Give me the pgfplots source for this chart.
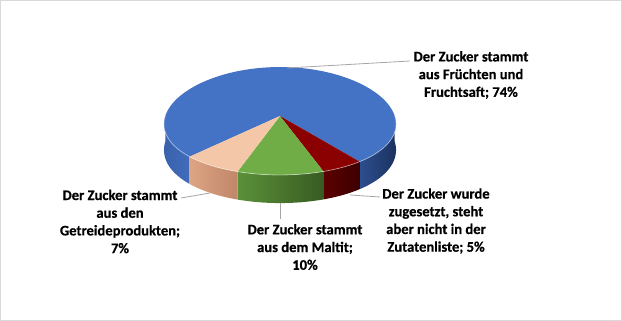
\documentclass[border=0pt]{standalone}
\usepackage{pgfplots}
\pgfplotsset{compat=1.18}
\usepackage{pgfplotstable}
\usepackage{fontspec}
\setmainfont{Carlito}[BoldFeatures={FakeBold=0.6}]

\definecolor{cBlue}{HTML}{4472C4}
\definecolor{cBlueSideL1}{HTML}{3A62AC}
\definecolor{cBlueSideL2}{HTML}{416CBB}
\definecolor{cBlueSideR1}{HTML}{2D4F8F}
\definecolor{cBlueSideR2}{HTML}{1B3260}
\definecolor{cRed}{HTML}{8B0000}
\definecolor{cRedSide1}{HTML}{5C0000}
\definecolor{cRedSide2}{HTML}{3D0000}
\definecolor{cGreen}{HTML}{70AD47}
\definecolor{cGreenSide1}{HTML}{5B9039}
\definecolor{cGreenSide2}{HTML}{385B22}
\definecolor{cPeach}{HTML}{F4C7A8}
\definecolor{cPeachSide1}{HTML}{DDA584}
\definecolor{cPeachSide2}{HTML}{BF8668}
\definecolor{cLeader}{HTML}{A6A6A6}
\definecolor{cFrame}{HTML}{D9D9D9}

% slice values (in %), clockwise: Fruechte, zugesetzt, Maltit, Getreide
\pgfplotstableread{
slice value
1 74
2 5
3 10
4 7
}\piedata

\pgfplotstablegetelem{0}{value}\of\piedata\edef\vA{\pgfplotsretval}
\pgfplotstablegetelem{1}{value}\of\piedata\edef\vB{\pgfplotsretval}
\pgfplotstablegetelem{2}{value}\of\piedata\edef\vC{\pgfplotsretval}
\pgfplotstablegetelem{3}{value}\of\piedata\edef\vD{\pgfplotsretval}
\pgfmathsetmacro\tot{\vA+\vB+\vC+\vD}
\pgfmathsetmacro\degper{360/\tot}
\def\startang{225.25}
\pgfmathsetmacro\pA{\startang-\degper*\vA+360}
\pgfmathsetmacro\pB{\pA-\degper*\vB}
\pgfmathsetmacro\pC{\pB-\degper*\vC}
\pgfmathsetmacro\pD{\pC-\degper*\vD}
\pgfmathsetmacro\pAm{\pA-360}

% geometry of the pie (image coordinates, mild perspective)
\def\apx{280}\def\apy{116}
\def\pAx{114.7}\def\pBy{53.5}
\def\kx{0.15}\def\ky{0.0926}
\def\pdepth{25.5}

% side wall between angles #1<#2
\newcommand\wall[4]{%
  \addplot[draw=none, left color=#3, right color=#4, domain=0:3, samples=181,
    declare function={Tw(\x)=(\x<1) ? (#1+(#2-#1)*\x) : ((\x<2) ? (#2) : (#2-(#2-#1)*(\x-2)));
                      Ow(\x)=(\x<1) ? 0 : ((\x<2) ? (\x-1) : 1);}]
  ({PX(Tw(x))},{PY(Tw(x)) + Ow(x)*\pdepth/(1+\ky*sin(Tw(x)))});
}
% top face between angles #1<#2
\newcommand\topface[3]{%
  \addplot[draw=none, fill=#3, domain=#1:#2, samples=120]
  ({PX(x)},{PY(x)}) -- (axis cs:\apx,\apy) -- cycle;
}
\newcommand\lbl{\fontsize{14.6}{17.7}\selectfont\bfseries}

\begin{document}
\begin{tikzpicture}
\begin{axis}[hide axis, scale only axis, width=622pt, height=321pt,
  xmin=0, xmax=622, ymin=0, ymax=321, y dir=reverse, clip=false,
  declare function={PX(\x)=\apx+\pAx*cos(\x)/(1+\kx*sin(\x));
                    PY(\x)=\apy-\pBy*sin(\x)/(1+\ky*sin(\x));}]

% frame
\addplot[cFrame, line width=1pt] coordinates {(0.5,0.5) (621.5,0.5) (621.5,320.5) (0.5,320.5) (0.5,0.5)};

% side walls (front half only)
\wall{180}{\startang}{cBlueSideL1}{cBlueSideL2}
\wall{\pA}{360}{cBlueSideR1}{cBlueSideR2}
\wall{\pB}{\pA}{cRedSide1}{cRedSide2}
\wall{\pC}{\pB}{cGreenSide1}{cGreenSide2}
\wall{\pD}{\pC}{cPeachSide1}{cPeachSide2}

% top faces
\topface{\pAm}{\startang}{cBlue}
\topface{\pB}{\pA}{cRed}
\topface{\pC}{\pB}{cGreen}
\topface{\pD}{\pC}{cPeach}

% highlight along front edge
\addplot[white, opacity=0.45, line width=0.8pt, domain=180:360, samples=120]
  ({PX(x)},{PY(x)});

% leader lines
\addplot[cLeader, line width=0.8pt] coordinates {(287,68) (410,61)};
\addplot[cLeader, line width=0.8pt] coordinates {(181,198) (210,193)};
\addplot[cLeader, line width=0.8pt] coordinates {(280,203) (280,219)};
\addplot[cLeader, line width=0.8pt] coordinates {(350,195) (380,197)};

% labels
\node[font=\lbl, align=center] at (axis cs:471,75) {Der Zucker stammt\\aus Früchten und\\Fruchtsaft; 74\%};
\node[font=\lbl, align=center] at (axis cs:436,221) {Der Zucker wurde\\zugesetzt, steht\\aber nicht in der\\Zutatenliste; 5\%};
\node[font=\lbl, align=center] at (axis cs:305,247) {Der Zucker stammt\\aus dem Maltit;\\10\%};
\node[font=\lbl, align=center] at (axis cs:120,221.5) {Der Zucker stammt\\aus den\\Getreideprodukten;\\7\%};
\end{axis}
\end{tikzpicture}
\end{document}
